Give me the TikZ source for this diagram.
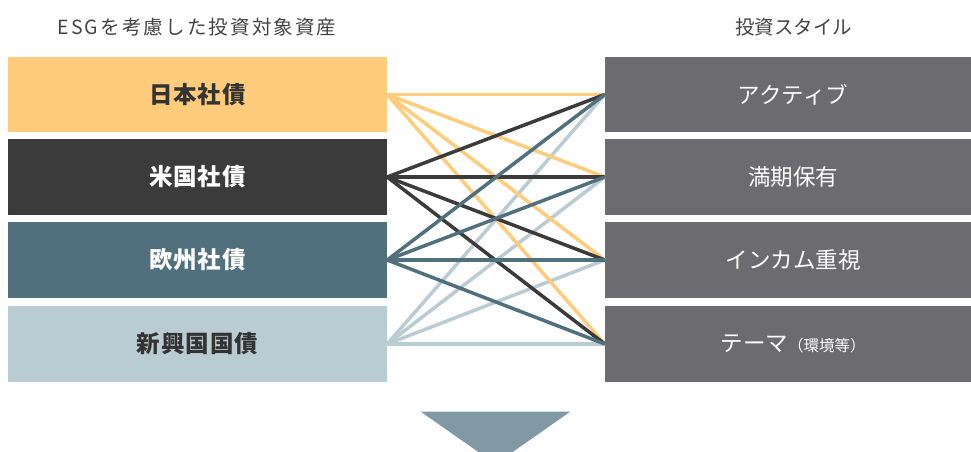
\documentclass[tikz,border=0pt]{standalone}
\usepackage{fontspec}
\setmainfont{Noto Sans CJK JP}
\definecolor{cyel}{HTML}{FECC7A}
\definecolor{cdark}{HTML}{3B3B3B}
\definecolor{cteal}{HTML}{50707D}
\definecolor{clight}{HTML}{B9CBD3}
\definecolor{cgray}{HTML}{6C6C70}
\definecolor{ctri}{HTML}{8099A5}
\definecolor{ctext}{HTML}{333333}
\definecolor{chead}{HTML}{444444}
\begin{document}
\begin{tikzpicture}[x=1pt,y=-1pt,
  lbox/.style={minimum width=379pt,minimum height=75.5pt,inner sep=0pt,anchor=center,font=\fontsize{23.5}{27}\selectfont\bfseries\addfontfeature{LetterSpace=4}},
  rbox/.style={minimum width=376pt,minimum height=75.5pt,inner sep=0pt,anchor=center,fill=cgray,text=white,font=\fontsize{22.5}{26}\selectfont},
  head/.style={text=chead,font=\fontsize{19.5}{23}\selectfont,inner sep=0pt},
  conn/.style={line width=3.5pt}]
\useasboundingbox (0,0) rectangle (971,451);
\node[head,font=\fontsize{19.5}{23}\selectfont\addfontfeature{LetterSpace=11}] (h1) at (197,27) {ESGを考慮した投資対象資産};
\node[head] (h2) at (793.5,27) {投資スタイル};
\node[lbox,fill=cyel,text=ctext] (L1) at (197.5,94.5) {日本社債};
\node[lbox,fill=cdark,text=white] (L2) at (197.5,177) {米国社債};
\node[lbox,fill=cteal,text=white] (L3) at (197.5,260) {欧州社債};
\node[lbox,fill=clight,text=ctext] (L4) at (197.5,344) {新興国国債};
\node[rbox] (R1) at (793,94.5) {アクティブ};
\node[rbox] (R2) at (793,177) {満期保有};
\node[rbox] (R3) at (793,260) {インカム重視};
\node[rbox] (R4) at (793,344) {テーマ{\fontsize{15.5}{18}\selectfont（環境等）}};
\foreach \r in {1,2,3,4} \draw[conn,clight] (L4.east) -- (R\r.west);
\foreach \r in {1,2,3,4} \draw[conn,cyel] (L1.east) -- (R\r.west);
\foreach \r in {1,2,3,4} \draw[conn,cdark] (L2.east) -- (R\r.west);
\foreach \r in {1,2,3,4} \draw[conn,cteal] (L3.east) -- (R\r.west);
\fill[ctri] (420.5,411.5) coordinate (t1) -- (570.5,411.5) coordinate (t2) -- (495.5,464) coordinate (t3) -- cycle;
\end{tikzpicture}
\end{document}
